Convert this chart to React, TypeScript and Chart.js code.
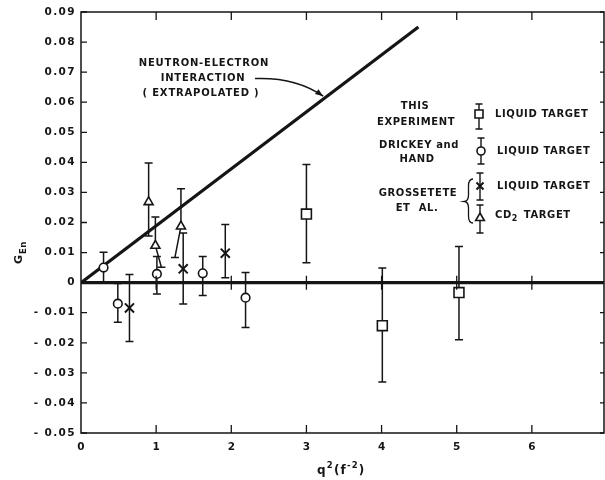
import React, { useEffect, useRef } from 'react';
import { Chart, registerables } from 'chart.js';

Chart.register(...registerables);

// ---- axis ticks ----
const xTickValues = [0, 1, 2, 3, 4, 5, 6];
const xTickLabels = ['0', '1', '2', '3', '4', '5', '6'];
const yTickValues = [0.09, 0.08, 0.07, 0.06, 0.05, 0.04, 0.03, 0.02, 0.01, 0, -0.01, -0.02, -0.03, -0.04, -0.05];
const yTickLabels = ['0.09', '0.08', '0.07', '0.06', '0.05', '0.04', '0.03', '0.02', '0.01', '0', '- 0.01', '- 0.02', '- 0.03', '- 0.04', '- 0.05'];
const zeroTickValues = [1, 2, 3, 4, 5, 6];

// ---- neutron-electron interaction line (extrapolated) ----
const lineQ2 = [0, 4.49];
const lineG = [0, 0.085];
const arrowQ2 = 3.25;
const arrowG = 0.0615;

// ---- zero line ----
const zeroQ2 = [0, 6.96];
const zeroG = [0, 0];

// ---- This experiment, liquid target (squares) ----
const thisQ2 = [3.0, 4.01, 5.03];
const thisG = [0.0228, -0.0143, -0.0033];
const thisHi = [0.0393, 0.0049, 0.012];
const thisLo = [0.0066, -0.033, -0.019];

// ---- Drickey and Hand, liquid target (circles) ----
const drickeyQ2 = [0.3, 0.49, 1.01, 1.62, 2.19];
const drickeyG = [0.005, -0.007, 0.0029, 0.0031, -0.005];
const drickeyHi = [0.0101, -0.0003, 0.0087, 0.0087, 0.0034];
const drickeyLo = [0.0, -0.0132, -0.0038, -0.0043, -0.0149];

// ---- Grossetete et al., liquid target (crosses) ----
const grossLiqQ2 = [0.645, 1.36, 1.92];
const grossLiqG = [-0.0084, 0.0046, 0.0098];
const grossLiqHi = [0.0027, 0.0165, 0.0193];
const grossLiqLo = [-0.0196, -0.0071, 0.0016];

// ---- Grossetete et al., CD2 target (triangles) ----
const grossCdQ2 = [0.9, 0.99, 1.33];
const grossCdG = [0.0268, 0.0123, 0.0187];
const grossCdHi = [0.0398, 0.0218, 0.0312];
const grossCdLo: (number | null)[] = [0.0155, null, null];
const grossCdTailQ2: (number | null)[] = [null, 1.07, 1.25];
const grossCdTailG: (number | null)[] = [null, 0.0051, 0.0084];

const INK = '#151515';
const FAMILY = '"DejaVu Sans", sans-serif';

function setFont(ctx: CanvasRenderingContext2D, size: number, spacing: number) {
  ctx.font = `bold ${size}px ${FAMILY}`;
  (ctx as any).letterSpacing = `${spacing}px`;
}

const toPts = (xs: number[], ys: number[]) => xs.map((x, i) => ({ x, y: ys[i] }));

function vbar(ctx: CanvasRenderingContext2D, x: number, y1: number, y2: number, cap: number, capTop = true, capBottom = true) {
  ctx.beginPath();
  ctx.moveTo(x, y1);
  ctx.lineTo(x, y2);
  if (capTop) {
    ctx.moveTo(x - cap, y1);
    ctx.lineTo(x + cap, y1);
  }
  if (capBottom) {
    ctx.moveTo(x - cap, y2);
    ctx.lineTo(x + cap, y2);
  }
  ctx.stroke();
}

function drawMarker(ctx: CanvasRenderingContext2D, kind: string, x: number, y: number, s: number) {
  ctx.save();
  ctx.fillStyle = '#fff';
  ctx.strokeStyle = INK;
  ctx.lineWidth = 1.6;
  ctx.beginPath();
  if (kind === 'rect') {
    ctx.rect(x - s, y - s, 2 * s, 2 * s);
    ctx.fill();
    ctx.stroke();
  } else if (kind === 'circle') {
    ctx.arc(x, y, s, 0, Math.PI * 2);
    ctx.fill();
    ctx.stroke();
  } else if (kind === 'cross') {
    ctx.lineWidth = 2;
    ctx.moveTo(x - s, y - s);
    ctx.lineTo(x + s, y + s);
    ctx.moveTo(x + s, y - s);
    ctx.lineTo(x - s, y + s);
    ctx.stroke();
  } else if (kind === 'triangle') {
    ctx.moveTo(x, y - s);
    ctx.lineTo(x + s * 0.87, y + s * 0.5);
    ctx.lineTo(x - s * 0.87, y + s * 0.5);
    ctx.closePath();
    ctx.fill();
    ctx.stroke();
  }
  ctx.restore();
}

const errorBarPlugin = {
  id: 'errorBars',
  beforeDatasetsDraw(chart: any) {
    const { ctx } = chart;
    const xs = chart.scales.x;
    const ys = chart.scales.y;
    ctx.save();
    ctx.strokeStyle = INK;
    ctx.lineWidth = 1.5;
    const groups: [number[], (number | null)[], (number | null)[]][] = [
      [thisQ2, thisHi, thisLo],
      [drickeyQ2, drickeyHi, drickeyLo],
      [grossLiqQ2, grossLiqHi, grossLiqLo],
      [grossCdQ2, grossCdHi, grossCdLo],
    ];
    const groupCenters = [thisG, drickeyG, grossLiqG, grossCdG];
    groups.forEach(([q, hi, lo], gi) => {
      q.forEach((qv, i) => {
        const px = xs.getPixelForValue(qv);
        const pc = ys.getPixelForValue(groupCenters[gi][i]);
        const h = hi[i];
        const l = lo[i];
        const yh = h == null ? pc : ys.getPixelForValue(h);
        const yl = l == null ? pc : ys.getPixelForValue(l);
        vbar(ctx, px, yh, yl, 4, h != null, l != null);
      });
    });
    // slanted lower bars of CD2 points
    grossCdQ2.forEach((qv, i) => {
      const tq = grossCdTailQ2[i];
      const tg = grossCdTailG[i];
      if (tq == null || tg == null) return;
      const x0 = xs.getPixelForValue(qv);
      const y0 = ys.getPixelForValue(grossCdG[i]);
      const x1 = xs.getPixelForValue(tq);
      const y1 = ys.getPixelForValue(tg);
      ctx.beginPath();
      ctx.moveTo(x0, y0);
      ctx.lineTo(x1, y1);
      ctx.moveTo(x1 - 4, y1);
      ctx.lineTo(x1 + 4, y1);
      ctx.stroke();
    });
    ctx.restore();
  },
};

const decorPlugin = {
  id: 'decor',
  afterDraw(chart: any) {
    const { ctx, chartArea } = chart;
    const { left, right, top, bottom } = chartArea;
    const xs = chart.scales.x;
    const ys = chart.scales.y;
    ctx.save();
    ctx.strokeStyle = INK;
    ctx.fillStyle = INK;

    // frame
    ctx.lineWidth = 1.5;
    ctx.strokeRect(left, top, right - left, bottom - top);

    // inward ticks
    ctx.lineWidth = 1.3;
    ctx.beginPath();
    xTickValues.forEach((v) => {
      if (v === 0) return;
      const x = xs.getPixelForValue(v);
      ctx.moveTo(x, bottom);
      ctx.lineTo(x, bottom - 8);
      ctx.moveTo(x, top);
      ctx.lineTo(x, top + 8);
    });
    yTickValues.forEach((v) => {
      const y = ys.getPixelForValue(v);
      ctx.moveTo(left, y);
      ctx.lineTo(left + 6, y);
      ctx.moveTo(right, y);
      ctx.lineTo(right - 4, y);
    });
    const y0 = ys.getPixelForValue(0);
    zeroTickValues.forEach((v) => {
      const x = xs.getPixelForValue(v);
      ctx.moveTo(x, y0 - 7);
      ctx.lineTo(x, y0 + 7);
    });
    ctx.stroke();

    // tick labels
    setFont(ctx, 10.5, 1.4);
    ctx.textAlign = 'right';
    ctx.textBaseline = 'middle';
    yTickValues.forEach((v, i) => {
      ctx.fillText(yTickLabels[i], left - 5, ys.getPixelForValue(v));
    });
    ctx.textAlign = 'center';
    xTickValues.forEach((v, i) => {
      ctx.fillText(xTickLabels[i], xs.getPixelForValue(v) + 0.7, 447);
    });

    // y title G_En
    ctx.save();
    ctx.translate(22, 264);
    ctx.rotate(-Math.PI / 2);
    ctx.textAlign = 'left';
    ctx.textBaseline = 'alphabetic';
    setFont(ctx, 11, 0.5);
    ctx.fillText('G', 0, 0);
    const gw = ctx.measureText('G').width;
    setFont(ctx, 8.5, 0.5);
    ctx.fillText('En', gw + 0.5, 3.5);
    ctx.restore();

    // x title q^2(f^-2)
    {
      ctx.textAlign = 'left';
      ctx.textBaseline = 'alphabetic';
      let x = 317;
      const base = 474;
      const part = (t: string, size: number, dy: number) => {
        setFont(ctx, size, 1.2);
        ctx.fillText(t, x, base + dy);
        x += ctx.measureText(t).width;
      };
      part('q', 12, 0);
      part('2', 8.5, -6);
      part('(', 12, 0);
      part('f', 12, 0);
      part('-2', 8.5, -6);
      part(')', 12, 0);
    }

    // annotation
    setFont(ctx, 10, 0.8);
    ctx.textAlign = 'center';
    ctx.textBaseline = 'middle';
    ctx.fillText('NEUTRON-ELECTRON', 204, 63);
    ctx.fillText('INTERACTION', 203, 78);
    ctx.fillText('( EXTRAPOLATED )', 201, 93);
    {
      const tx = xs.getPixelForValue(arrowQ2) - 2;
      const ty = ys.getPixelForValue(arrowG) - 1.5;
      const cx = 296;
      const cy = 77;
      ctx.lineWidth = 1.5;
      ctx.beginPath();
      ctx.moveTo(255, 78.5);
      ctx.quadraticCurveTo(cx, cy, tx, ty);
      ctx.stroke();
      const ang = Math.atan2(ty - cy, tx - cx);
      ctx.beginPath();
      ctx.moveTo(tx, ty);
      ctx.lineTo(tx - 8 * Math.cos(ang) + 3 * Math.sin(ang), ty - 8 * Math.sin(ang) - 3 * Math.cos(ang));
      ctx.lineTo(tx - 8 * Math.cos(ang) - 3 * Math.sin(ang), ty - 8 * Math.sin(ang) + 3 * Math.cos(ang));
      ctx.closePath();
      ctx.fill();
    }

    // legend
    setFont(ctx, 10, 0.6);
    ctx.textAlign = 'center';
    ctx.fillText('THIS', 415, 106);
    ctx.fillText('EXPERIMENT', 416, 122);
    ctx.fillText('DRICKEY and', 419, 145);
    ctx.fillText('HAND', 417, 159);
    ctx.fillText('GROSSETETE', 418, 193);
    ctx.fillText('ET  AL.', 417, 208);
    ctx.textAlign = 'left';
    ctx.fillText('LIQUID TARGET', 495, 114);
    ctx.fillText('LIQUID TARGET', 497, 151);
    ctx.fillText('LIQUID TARGET', 497, 186);
    ctx.fillText('CD', 495, 215);
    const cdw = ctx.measureText('CD').width;
    setFont(ctx, 8, 0.4);
    ctx.fillText('2', 495 + cdw, 219);
    setFont(ctx, 10, 0.6);
    ctx.fillText('TARGET', 495 + cdw + 12, 215);

    ctx.lineWidth = 1.4;
    vbar(ctx, 479, 104, 129, 3.5);
    drawMarker(ctx, 'rect', 479, 114, 4);
    vbar(ctx, 481, 138, 164, 3.5);
    drawMarker(ctx, 'circle', 481, 151, 4);
    ctx.lineWidth = 1.4;
    vbar(ctx, 480, 173, 200, 3.5);
    drawMarker(ctx, 'cross', 480, 186, 3.5);
    ctx.lineWidth = 1.4;
    vbar(ctx, 480, 205, 233, 3.5);
    drawMarker(ctx, 'triangle', 480, 218, 5);

    // brace
    ctx.lineWidth = 1.3;
    ctx.beginPath();
    ctx.moveTo(473, 179);
    ctx.quadraticCurveTo(468.5, 179, 468.5, 186);
    ctx.lineTo(468.5, 195);
    ctx.quadraticCurveTo(468.5, 201, 464.5, 201.5);
    ctx.quadraticCurveTo(468.5, 202, 468.5, 208);
    ctx.lineTo(468.5, 216);
    ctx.quadraticCurveTo(468.5, 223, 473, 223);
    ctx.stroke();

    (ctx as any).letterSpacing = '0px';
    ctx.restore();
  },
};

export default function App() {
  const ref = useRef<HTMLCanvasElement>(null);

  useEffect(() => {
    const canvas = ref.current;
    if (!canvas) return;
    const pointBase = {
      showLine: false,
      borderColor: INK,
      backgroundColor: '#ffffff',
      borderWidth: 1.6,
    };
    const chart = new Chart(canvas, {
      type: 'scatter',
      data: {
        datasets: [
          { ...pointBase, data: toPts(thisQ2, thisG), pointStyle: 'rect', pointRadius: 7 },
          { ...pointBase, data: toPts(drickeyQ2, drickeyG), pointStyle: 'circle', pointRadius: 4.3 },
          { ...pointBase, data: toPts(grossLiqQ2, grossLiqG), pointStyle: 'crossRot', pointRadius: 6.4, borderWidth: 2 },
          { ...pointBase, data: toPts(grossCdQ2, grossCdG), pointStyle: 'triangle', pointRadius: 5.2 },
          {
            data: toPts(lineQ2, lineG),
            showLine: true,
            borderColor: INK,
            borderWidth: 3.2,
            pointRadius: 0,
            borderCapStyle: 'butt',
          },
          {
            data: toPts(zeroQ2, zeroG),
            showLine: true,
            borderColor: INK,
            borderWidth: 3.2,
            pointRadius: 0,
            borderCapStyle: 'butt',
          },
        ],
      } as any,
      options: {
        animation: false,
        responsive: false,
        maintainAspectRatio: false,
        events: [],
        layout: { autoPadding: false, padding: { top: 12, right: 1, left: 0, bottom: 0 } },
        plugins: { legend: { display: false }, tooltip: { enabled: false } },
        scales: {
          x: {
            type: 'linear',
            min: 0,
            max: 6.96,
            grid: { display: false },
            border: { display: false },
            ticks: { display: false },
            afterBuildTicks: (s: any) => {
              s.ticks = xTickValues.map((v) => ({ value: v }));
            },
            afterFit: (s: any) => {
              s.height = 47;
            },
          },
          y: {
            type: 'linear',
            min: -0.05,
            max: 0.09,
            grid: { display: false },
            border: { display: false },
            ticks: { display: false },
            afterBuildTicks: (s: any) => {
              s.ticks = yTickValues.map((v) => ({ value: v }));
            },
            afterFit: (s: any) => {
              s.width = 81;
            },
          },
        },
      } as any,
      plugins: [errorBarPlugin, decorPlugin],
    });
    return () => chart.destroy();
  }, []);

  return (
    <div style={{ position: 'fixed', left: 0, top: 0, width: 605, height: 480, background: '#fff' }}>
      <canvas ref={ref} width={605} height={480} style={{ display: 'block', width: 605, height: 480 }} />
    </div>
  );
}
